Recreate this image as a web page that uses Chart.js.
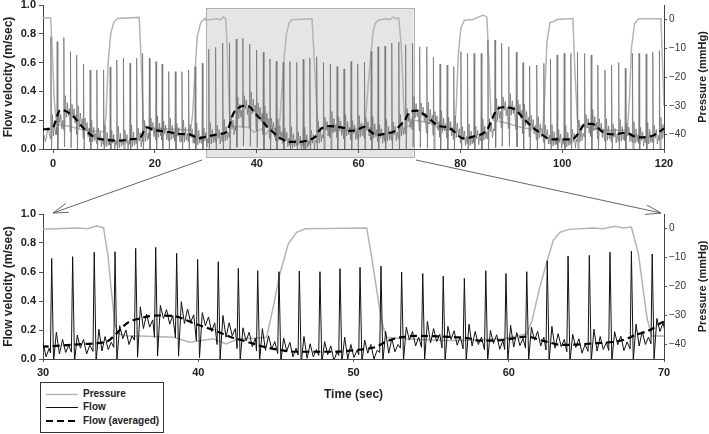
<!DOCTYPE html>
<html><head><meta charset="utf-8">
<script src="https://cdn.jsdelivr.net/npm/chart.js@4.4.1/dist/chart.umd.min.js"></script>
<style>
html,body{margin:0;padding:0;background:#fff;}
#wrap{position:relative;width:709px;height:434px;overflow:hidden;font-family:"Liberation Sans",Arial,sans-serif;}
#c1{position:absolute;left:0;top:0;}
#c2{position:absolute;left:0;top:190px;}
#ov{position:absolute;left:0;top:0;pointer-events:none;}
#legend{position:absolute;left:40px;top:382px;width:124px;height:51px;border:1px solid #333;background:#fff;box-sizing:border-box;}
#legend svg{position:absolute;left:0;top:0;}
#legend span{position:absolute;left:42px;font-weight:bold;font-size:10px;line-height:12px;color:#222;white-space:nowrap;}
</style></head>
<body>
<div id="wrap">
<canvas id="c1" width="709" height="175"></canvas>
<canvas id="c2" width="709" height="244"></canvas>
<svg id="ov" width="709" height="434"></svg>
<div id="legend">
  <svg width="122" height="49">
    <line x1="5" y1="11.5" x2="37" y2="11.5" stroke="#b4b4b4" stroke-width="1.5"/>
    <line x1="5" y1="24.5" x2="37" y2="24.5" stroke="#111" stroke-width="1"/>
    <line x1="5" y1="38" x2="37" y2="38" stroke="#000" stroke-width="2.2" stroke-dasharray="7,4"/>
  </svg>
  <span style="top:5px">Pressure</span>
  <span style="top:18px">Flow</span>
  <span style="top:32px">Flow (averaged)</span>
</div>
</div>
<script>
// ---------- data ----------
// heartbeat times (s), flow peak velocity (m/s), local flow baseline (m/s)
const beatTimes = [-0.45, 0.79, 2.1, 3.4, 4.65, 5.96, 7.27, 8.58, 9.9, 11.2, 12.5, 13.8, 15.1, 16.4, 17.6, 18.9, 20.2, 21.4, 22.7, 24.0, 25.3, 26.6, 27.9, 29.3,
  30.56, 31.91, 33.30, 34.64, 35.97, 37.26, 38.61, 39.96, 41.29, 42.58, 43.83, 45.20, 46.51, 47.84, 49.13, 50.42, 51.77, 53.10, 54.46, 55.78, 57.14, 58.52, 59.82, 61.16, 62.48, 63.82, 65.19, 66.52, 67.90, 69.24,
  70.6, 72.0, 73.4, 74.7, 76.0, 77.4, 78.7, 80.1, 81.4, 82.7, 84.1, 85.4, 86.8, 88.1, 89.5, 91.0, 92.3, 93.6, 95.0, 96.4, 97.7, 99.0, 100.4, 101.7, 103.0, 104.4, 105.7, 107.0, 108.4, 109.7, 111.1, 112.4, 113.8, 115.1, 116.5, 117.8, 119.1];
const beatPeaks = [0.78, 0.745, 0.775, 0.676, 0.653, 0.59, 0.549, 0.549, 0.549, 0.57, 0.618, 0.63, 0.595, 0.63, 0.664, 0.63, 0.606, 0.59, 0.537, 0.537, 0.537, 0.549, 0.572, 0.595,
  0.694, 0.706, 0.736, 0.74, 0.763, 0.770, 0.729, 0.687, 0.671, 0.625, 0.609, 0.602, 0.607, 0.602, 0.623, 0.632, 0.641, 0.600, 0.590, 0.572, 0.556, 0.609, 0.590, 0.602, 0.678, 0.710, 0.715, 0.736, 0.743, 0.724,
  0.734, 0.71, 0.71, 0.637, 0.59, 0.583, 0.572, 0.676, 0.664, 0.664, 0.664, 0.757, 0.757, 0.734, 0.71, 0.672, 0.6, 0.576, 0.583, 0.595, 0.623, 0.653, 0.664, 0.664, 0.672, 0.664, 0.653, 0.583, 0.549, 0.583, 0.6, 0.56, 0.664, 0.664, 0.66, 0.672, 0.683];
const beatBase = [0.14, 0.2, 0.27, 0.24, 0.2, 0.145, 0.1, 0.075, 0.065, 0.06, 0.058, 0.06, 0.067, 0.075, 0.1, 0.145, 0.13, 0.125, 0.115, 0.108, 0.1, 0.1, 0.08, 0.075,
  0.085, 0.095, 0.105, 0.16, 0.26, 0.3, 0.295, 0.25, 0.2, 0.145, 0.11, 0.075, 0.055, 0.05, 0.05, 0.06, 0.09, 0.15, 0.16, 0.155, 0.14, 0.127, 0.132, 0.15, 0.125, 0.1, 0.105, 0.118, 0.14, 0.21,
  0.265, 0.25, 0.225, 0.19, 0.165, 0.15, 0.13, 0.085, 0.075, 0.09, 0.11, 0.14, 0.25, 0.29, 0.285, 0.27, 0.21, 0.165, 0.125, 0.095, 0.07, 0.065, 0.065, 0.067, 0.1, 0.17, 0.175, 0.14, 0.11, 0.102, 0.105, 0.112, 0.09, 0.08, 0.085, 0.095, 0.12];
// one beat's waveform: time offsets (s) and offsets from baseline (m/s)
const beatShapeDt = [-0.08, 0, 0.12, 0.3, 0.5, 0.7, 0.9, 1.1];
const wiggleA = [0.1, -0.05, 0.05, -0.04, 0.01];
const wiggleB = [0.07, -0.02, 0.04, -0.06, 0.0];
// flow before the first beat
const leadT = [-2, -1.5, -1.0];
const leadV = [0.12, 0.05, 0.15];

// averaged flow (m/s)
const avgT = [-2, -0.2, 1.4, 2.3, 4.0, 6.0, 7.9, 10.5, 13.2, 15.1, 17.1, 18.3, 19.8, 22.3, 24.9, 26.9, 28.5, 30, 32.6, 34.1, 34.75, 35.4, 36.25, 37.3, 38.4, 39.7, 40.97, 42.04, 43.1, 44.2, 45.3, 46.3, 48.5, 50.6, 51.5, 52.1, 53.0, 54.3, 55.8, 57.4, 58.15, 59.65, 61.16, 62.2, 63.5, 65.45, 67.2, 68.2, 69.1, 70.0, 71.4, 73.4, 75.4, 78.0, 80.6, 82.5, 85.2, 87.1, 88.4, 90.7, 92.7, 95.3, 97.9, 101.9, 103.2, 104.5, 105.8, 108.4, 110.4, 112.3, 114.9, 117.6, 120];
const avgV = [0.137, 0.143, 0.27, 0.266, 0.225, 0.143, 0.086, 0.0625, 0.058, 0.067, 0.079, 0.15, 0.132, 0.12, 0.104, 0.1, 0.074, 0.085, 0.103, 0.12, 0.177, 0.246, 0.28, 0.30, 0.297, 0.246, 0.2, 0.154, 0.12, 0.085, 0.062, 0.05, 0.05, 0.067, 0.085, 0.12, 0.149, 0.159, 0.154, 0.143, 0.126, 0.131, 0.154, 0.126, 0.097, 0.108, 0.126, 0.166, 0.2, 0.257, 0.266, 0.225, 0.167, 0.143, 0.074, 0.086, 0.132, 0.27, 0.29, 0.275, 0.2, 0.12, 0.067, 0.067, 0.109, 0.174, 0.174, 0.109, 0.102, 0.113, 0.081, 0.09, 0.143];

// pressure (mmHg)
const presT = [-2, -0.5, -0.2, 0.2, 0.7, 3, 6, 10, 10.4, 10.8, 11.3, 11.9, 12.6, 16.9, 17.3, 17.7, 18.2, 22, 27, 27.4, 27.8, 28.3, 29.0, 29.8,
  30, 32.17, 32.9, 33.46, 33.9, 34.2, 34.4, 34.64, 34.85, 35.4, 36.2, 38.4, 39.47, 40.1, 40.97, 41.8, 42.58, 43.1, 44.4, 44.83, 45.26, 45.8, 46.34, 46.88, 50.85, 51.17, 51.5, 51.8, 52.1, 53.3, 55.8, 57.07, 59.65, 61.16, 61.5, 62.0, 62.48, 62.87, 63.3, 63.9, 65.45, 66.1, 66.84, 67.4, 67.9, 68.35, 68.9, 69.2, 70,
  71, 74, 76, 78.8, 79.2, 79.6, 80.1, 80.8, 82.5, 84.5, 85.2, 85.6, 86.0, 86.5, 89, 92, 95, 96.2, 96.6, 97.0, 97.6, 98.3, 99, 102.1, 102.5, 103.0, 103.5, 108, 112.8, 113.2, 113.6, 114.2, 115, 119.4, 119.7, 120];
const presV = [0.5, 0.5, -10, -28, -36.5, -37, -38.5, -39, -33, -15, -5, -1, 0.3, 0.7, -15, -35, -37.5, -38, -38.5, -33, -20, -6, -1, 0.3,
  -0.3, 0.2, -0.1, 0.9, 0.2, -9.9, -21.4, -32.9, -36.3, -37.1, -37.1, -37.5, -39.2, -38.7, -38, -39.8, -38, -38, -37.5, -27.1, -15.6, -5.3, -1.3, -0.1, 0.2, -9.9, -21.4, -31.7, -37.5, -38, -38.6, -38.6, -38, -36.3, -31.7, -20.2, -11, -4.1, -1.3, -0.3, 0.2, -0.1, 0.8, 0.2, 0.5, -8.7, -30.6, -37.1, -37.1,
  -35, -36, -38, -38.5, -30, -12, -3, -0.3, 0, 1.5, 0.8, -15, -33, -35, -36, -37.5, -38.5, -38, -25, -8, -1, -0.8, 0, 0.3, -18, -35, -37, -38.5, -38.5, -28, -10, -1.5, 0.2, 0.2, -15, -30];

// tick values
const topTimeTicks = [0, 20, 40, 60, 80, 100, 120];
const zoomTimeTicks = [30, 40, 50, 60, 70];
const flowTicks = [0, 0.2, 0.4, 0.6, 0.8, 1.0];
const pressureTicks = [-40, -30, -20, -10, 0];

// ---------- build series ----------
const flowData = leadT.map((t, i) => ({x: t, y: leadV[i]}));
beatTimes.forEach((T, i) => {
  const P = beatPeaks[i], B = beatBase[i];
  const w = i % 2 ? wiggleB : wiggleA;
  const next = i + 1 < beatTimes.length ? beatTimes[i + 1] - 0.09 : 121;
  beatShapeDt.forEach((dt, k) => {
    const t = T + dt;
    if (t >= next) return;
    let v;
    if (k === 0) v = B * 0.5;
    else if (k === 1) v = P;
    else if (k === 2) v = B * 0.2 - 0.04;
    else v = B + w[k - 3];
    flowData.push({x: t, y: v});
  });
});
const avgData = avgT.map((t, i) => ({x: t, y: avgV[i]}));
const presData = presT.map((t, i) => ({x: t, y: presV[i]}));

// ---------- plugins ----------
const FONT = '"Liberation Sans", Arial, Helvetica, sans-serif';
const zoomBox = {
  id: 'zoomBox',
  beforeDraw(chart, args, opts) {
    if (!opts.show) return;
    const ctx = chart.ctx, xs = chart.scales.x, ca = chart.chartArea;
    const x0 = xs.getPixelForValue(opts.from), x1 = xs.getPixelForValue(opts.to);
    const y0 = ca.top + 3, y1 = ca.bottom + 8;
    ctx.save();
    ctx.fillStyle = '#e5e5e5';
    ctx.fillRect(x0, y0, x1 - x0, y1 - y0);
    ctx.strokeStyle = '#b0b0b0';
    ctx.lineWidth = 1;
    ctx.strokeRect(Math.round(x0) + 0.5, Math.round(y0) + 0.5, Math.round(x1 - x0), Math.round(y1 - y0));
    ctx.restore();
  }
};
const rightTitle = {
  id: 'rightTitle',
  afterDraw(chart, args, opts) {
    const s = chart.scales.y2, ctx = chart.ctx;
    ctx.save();
    ctx.font = 'bold 11px ' + FONT;
    ctx.fillStyle = '#222';
    ctx.textAlign = 'center';
    ctx.textBaseline = 'middle';
    ctx.translate(opts.x, (s.top + s.bottom) / 2);
    ctx.rotate(-Math.PI / 2);
    ctx.fillText(opts.text, 0, 0);
    ctx.restore();
  }
};

function makeChart(canvas, o) {
  return new Chart(canvas, {
    type: 'line',
    data: { datasets: [
      { label: 'Flow (averaged)', data: avgData, yAxisID: 'y', borderColor: '#000', borderWidth: 2.2, borderDash: [7, 4], pointRadius: 0, cubicInterpolationMode: 'monotone', order: 0 },
      { label: 'Flow', data: flowData, yAxisID: 'y', borderColor: o.flowColor, borderWidth: o.flowWidth, pointRadius: 0, tension: 0, order: 1 },
      { label: 'Pressure', data: presData, yAxisID: 'y2', borderColor: '#b4b4b4', borderWidth: 1.5, pointRadius: 0, tension: 0, order: 2 }
    ]},
    options: {
      responsive: false, animation: false, events: [],
      layout: { padding: { top: o.padTop, bottom: o.padBottom, left: 0, right: 0 } },
      plugins: {
        legend: { display: false }, tooltip: { enabled: false },
        zoomBox: o.zoomBox || { show: false },
        rightTitle: { text: 'Pressure (mmHg)', x: 703 }
      },
      scales: {
        x: {
          type: 'linear', min: o.xmin, max: o.xmax,
          afterBuildTicks: s => { s.ticks = o.xTicks.map(v => ({ value: v })); },
          afterFit: s => { s.height = o.xh; s.paddingLeft = 0; s.paddingRight = 0; },
          ticks: { font: { family: FONT, size: 11, weight: 'bold' }, color: '#222', padding: o.xPad, maxRotation: 0, autoSkip: false, callback: v => String(v) },
          grid: { drawOnChartArea: false, tickLength: o.xTick, color: '#555' },
          border: { color: '#444', width: 1 },
          title: o.xTitle ? { display: true, text: o.xTitle, font: { family: FONT, size: 12, weight: 'bold' }, color: '#222', padding: { top: 0, bottom: 0 } } : { display: false }
        },
        y: {
          type: 'linear', position: 'left', min: 0, max: 1,
          afterBuildTicks: s => { s.ticks = flowTicks.map(v => ({ value: v })); },
          afterFit: s => { s.width = 43; s.paddingTop = 0; s.paddingBottom = 0; },
          ticks: { font: { family: FONT, size: 11, weight: 'bold' }, color: '#222', padding: 3, callback: v => v.toFixed(1) },
          grid: { drawOnChartArea: false, tickLength: 4, color: '#555' },
          border: { color: '#444', width: 1 },
          title: { display: true, text: 'Flow velocity (m/sec)', font: { family: FONT, size: 12, weight: 'bold' }, color: '#222', padding: { top: 1, bottom: 0 } }
        },
        y2: {
          type: 'linear', position: 'right', min: -45, max: 5,
          afterBuildTicks: s => { s.ticks = pressureTicks.map(v => ({ value: v })); },
          afterFit: s => { s.width = 45; s.paddingTop = 0; s.paddingBottom = 0; },
          ticks: { font: { family: FONT, size: 10 }, color: '#333', padding: 2, callback: v => v < 0 ? '\u2212' + Math.abs(v) : String(v) },
          grid: { drawOnChartArea: false, tickLength: 3, color: '#555' },
          border: { color: '#444', width: 1 }
        }
      }
    },
    plugins: [zoomBox, rightTitle]
  });
}

makeChart(document.getElementById('c1'), {
  xmin: -2, xmax: 120, xTicks: topTimeTicks, xh: 20, xPad: 4, xTick: 4,
  padTop: 5, padBottom: 6, flowColor: '#777777', flowWidth: 0.8,
  zoomBox: { show: true, from: 30, to: 70.8 }
});
makeChart(document.getElementById('c2'), {
  xmin: 30, xmax: 70, xTicks: zoomTimeTicks, xh: 43, xPad: 4, xTick: 3,
  padTop: 24, padBottom: 32, flowColor: '#111', flowWidth: 1,
  xTitle: 'Time (sec)'
});

// ---------- zoom arrows ----------
const svg = document.getElementById('ov');
function arrow(x1, y1, x2, y2) {
  const ns = 'http://www.w3.org/2000/svg';
  const mk = (a, b, c, d) => {
    const l = document.createElementNS(ns, 'line');
    l.setAttribute('x1', a); l.setAttribute('y1', b); l.setAttribute('x2', c); l.setAttribute('y2', d);
    l.setAttribute('stroke', '#555'); l.setAttribute('stroke-width', '0.9');
    svg.appendChild(l);
  };
  mk(x1, y1, x2, y2);
  const ang = Math.atan2(y1 - y2, x1 - x2), L = 16, h = 0.3;
  mk(x2, y2, x2 + L * Math.cos(ang + h), y2 + L * Math.sin(ang + h));
  mk(x2, y2, x2 + L * Math.cos(ang - h), y2 + L * Math.sin(ang - h));
}
arrow(202, 160, 53, 213);
arrow(416, 160, 661, 213);
</script>
</body></html>
